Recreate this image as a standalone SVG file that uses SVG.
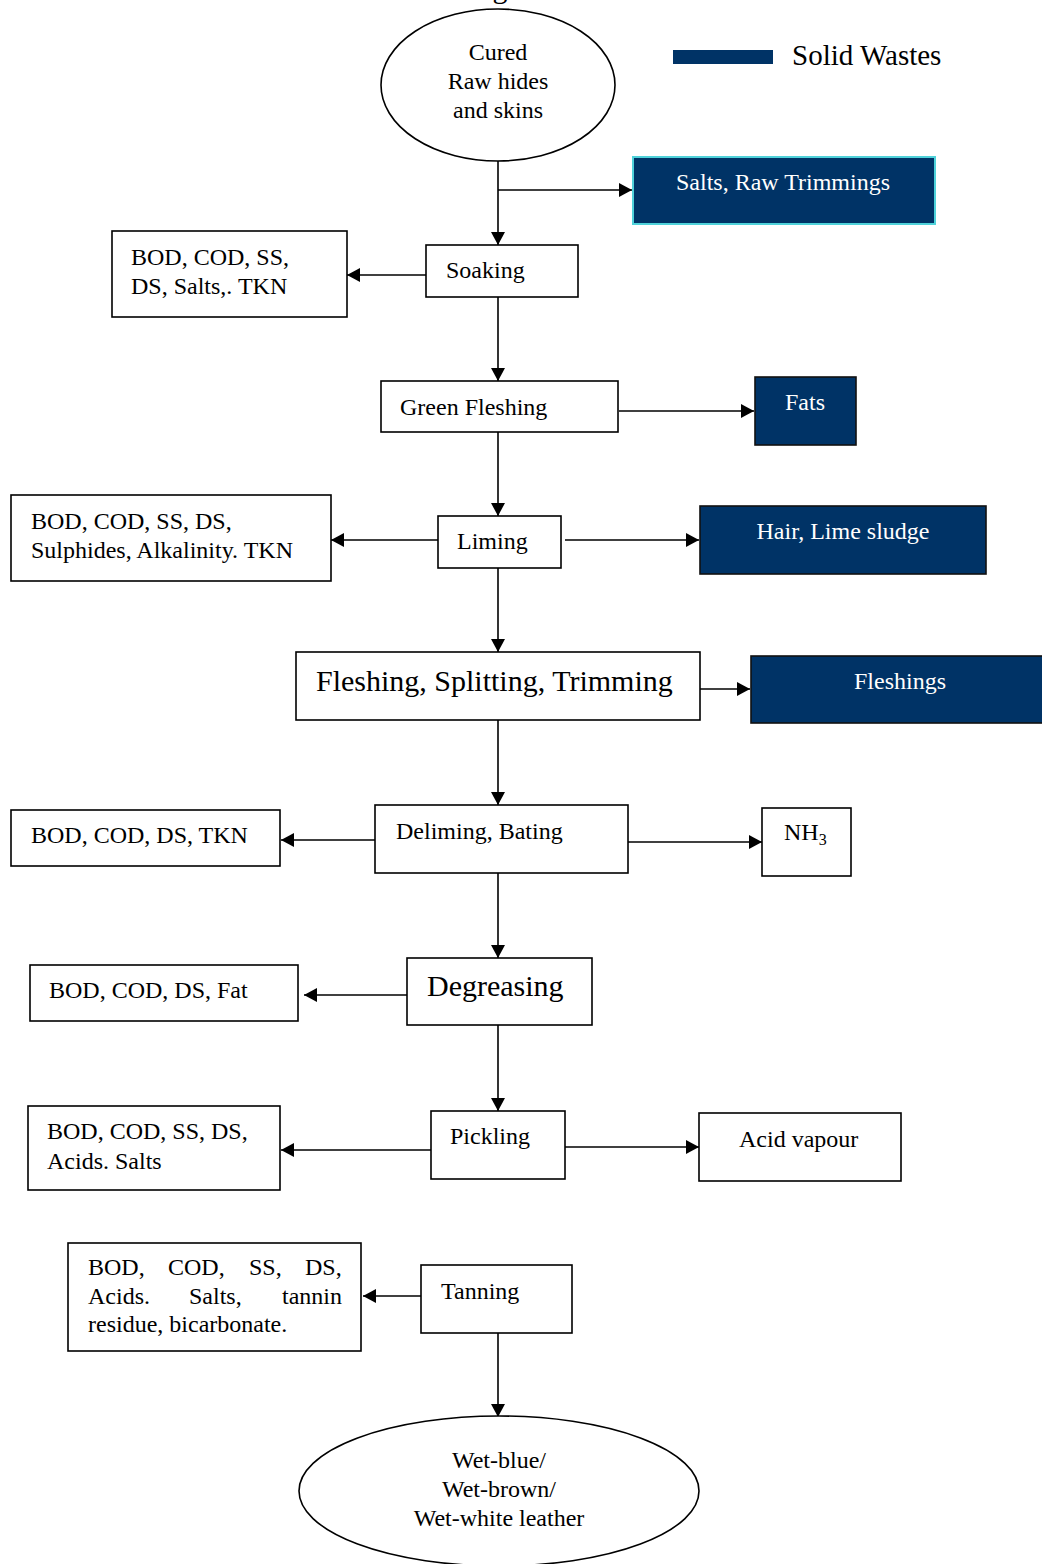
<svg xmlns="http://www.w3.org/2000/svg" width="1042" height="1564" viewBox="0 0 1042 1564">
<style>
text{font-family:"Liberation Serif","Times New Roman",serif;font-size:24px;fill:#000}
.big{font-size:30px}
.w{fill:#fff}
.c{text-anchor:middle}
.e{text-anchor:end}
.box{fill:#fff;stroke:#000;stroke-width:1.6}
.solid{fill:#003366;stroke:#111;stroke-width:1.6}
.ln{stroke:#000;stroke-width:1.6;fill:none}
</style>
<defs>
<marker id="ah" markerUnits="userSpaceOnUse" markerWidth="14" markerHeight="14" refX="13" refY="7" orient="auto">
<path d="M0,0 L13,7 L0,14 Z" fill="#000"/>
</marker>
</defs>
<rect width="1042" height="1564" fill="#fff"/>
<text x="500" y="-2" class="c big">g</text>

<g id="legend">
<rect x="673" y="50" width="100" height="14" fill="#003366"/>
<text x="792" y="65" class="big" style="font-size:29px">Solid Wastes</text>
</g>

<g id="connectors">
<line class="ln" x1="498" y1="161" x2="498" y2="245" marker-end="url(#ah)"/>
<line class="ln" x1="498" y1="190" x2="632" y2="190" marker-end="url(#ah)"/>
<line class="ln" x1="426" y1="275" x2="347" y2="275" marker-end="url(#ah)"/>
<line class="ln" x1="498" y1="297" x2="498" y2="381" marker-end="url(#ah)"/>
<line class="ln" x1="619" y1="411" x2="754" y2="411" marker-end="url(#ah)"/>
<line class="ln" x1="498" y1="432" x2="498" y2="516" marker-end="url(#ah)"/>
<line class="ln" x1="438" y1="540" x2="331" y2="540" marker-end="url(#ah)"/>
<line class="ln" x1="565" y1="540" x2="699" y2="540" marker-end="url(#ah)"/>
<line class="ln" x1="498" y1="568" x2="498" y2="652" marker-end="url(#ah)"/>
<line class="ln" x1="700" y1="689" x2="750" y2="689" marker-end="url(#ah)"/>
<line class="ln" x1="498" y1="720" x2="498" y2="805" marker-end="url(#ah)"/>
<line class="ln" x1="375" y1="840" x2="281" y2="840" marker-end="url(#ah)"/>
<line class="ln" x1="628" y1="842" x2="762" y2="842" marker-end="url(#ah)"/>
<line class="ln" x1="498" y1="873" x2="498" y2="958" marker-end="url(#ah)"/>
<line class="ln" x1="410" y1="995" x2="304" y2="995" marker-end="url(#ah)"/>
<line class="ln" x1="498" y1="1025" x2="498" y2="1111" marker-end="url(#ah)"/>
<line class="ln" x1="431" y1="1150" x2="281" y2="1150" marker-end="url(#ah)"/>
<line class="ln" x1="565" y1="1147" x2="699" y2="1147" marker-end="url(#ah)"/>
<line class="ln" x1="421" y1="1296" x2="363" y2="1296" marker-end="url(#ah)"/>
<line class="ln" x1="498" y1="1333" x2="498" y2="1417" marker-end="url(#ah)"/>
</g>

<g id="raw">
<ellipse class="box" cx="498" cy="85" rx="117" ry="76"/>
<text x="498" y="60" class="c">Cured</text>
<text x="498" y="89" class="c">Raw hides</text>
<text x="498" y="118" class="c">and skins</text>
</g>

<g id="salts">
<rect x="633" y="157" width="302" height="67" fill="#003366" stroke="#4fd2da" stroke-width="2"/>
<text x="783" y="190" class="c w">Salts, Raw Trimmings</text>
</g>

<g id="soaking">
<rect class="box" x="426" y="245" width="152" height="52"/>
<text x="446" y="278">Soaking</text>
</g>
<g id="soak-out">
<rect class="box" x="112" y="231" width="235" height="86"/>
<text x="131" y="265">BOD, COD, SS,</text>
<text x="131" y="294">DS, Salts,. TKN</text>
</g>

<g id="green">
<rect class="box" x="381" y="381" width="237" height="51"/>
<text x="400" y="415">Green Fleshing</text>
</g>
<g id="fats">
<rect class="solid" x="755" y="377" width="101" height="68"/>
<text x="805" y="410" class="c w">Fats</text>
</g>

<g id="liming">
<rect class="box" x="438" y="516" width="123" height="52"/>
<text x="457" y="549">Liming</text>
</g>
<g id="lime-out">
<rect class="box" x="11" y="495" width="320" height="86"/>
<text x="31" y="529">BOD, COD, SS, DS,</text>
<text x="31" y="558">Sulphides, Alkalinity. TKN</text>
</g>
<g id="hair">
<rect class="solid" x="700" y="506" width="286" height="68"/>
<text x="843" y="539" class="c w">Hair, Lime sludge</text>
</g>

<g id="fst">
<rect class="box" x="296" y="652" width="404" height="68"/>
<text x="316" y="691" class="big">Fleshing, Splitting, Trimming</text>
</g>
<g id="fleshings">
<rect class="solid" x="751" y="656" width="300" height="67"/>
<text x="900" y="689" class="c w">Fleshings</text>
</g>

<g id="deliming">
<rect class="box" x="375" y="805" width="253" height="68"/>
<text x="396" y="839">Deliming, Bating</text>
</g>
<g id="delim-out">
<rect class="box" x="11" y="810" width="269" height="56"/>
<text x="31" y="843">BOD, COD, DS, TKN</text>
</g>
<g id="nh3">
<rect class="box" x="762" y="808" width="89" height="68"/>
<text x="784" y="840">NH<tspan font-size="16" dy="5">3</tspan></text>
</g>

<g id="degreasing">
<rect class="box" x="407" y="958" width="185" height="67"/>
<text x="427" y="996" class="big">Degreasing</text>
</g>
<g id="degr-out">
<rect class="box" x="30" y="965" width="268" height="56"/>
<text x="49" y="998">BOD, COD, DS, Fat</text>
</g>

<g id="pickling">
<rect class="box" x="431" y="1111" width="134" height="68"/>
<text x="450" y="1144">Pickling</text>
</g>
<g id="pick-out">
<rect class="box" x="28" y="1106" width="252" height="84"/>
<text x="47" y="1139">BOD, COD, SS, DS,</text>
<text x="47" y="1169">Acids. Salts</text>
</g>
<g id="acid">
<rect class="box" x="699" y="1113" width="202" height="68"/>
<text x="739" y="1147">Acid vapour</text>
</g>

<g id="tanning">
<rect class="box" x="421" y="1265" width="151" height="68"/>
<text x="441" y="1299">Tanning</text>
</g>
<g id="tan-out">
<rect class="box" x="68" y="1243" width="293" height="108"/>
<text y="1275"><tspan x="88">BOD,</tspan> <tspan x="168">COD,</tspan> <tspan x="249">SS,</tspan> <tspan x="305">DS,</tspan></text>
<text y="1304"><tspan x="88">Acids.</tspan> <tspan x="189">Salts,</tspan> <tspan x="282">tannin</tspan></text>
<text x="88" y="1332">residue, bicarbonate.</text>
</g>

<g id="leather">
<ellipse class="box" cx="499" cy="1491" rx="200" ry="75"/>
<text x="499" y="1468" class="c">Wet-blue/</text>
<text x="499" y="1497" class="c">Wet-brown/</text>
<text x="499" y="1526" class="c">Wet-white leather</text>
</g>
</svg>
